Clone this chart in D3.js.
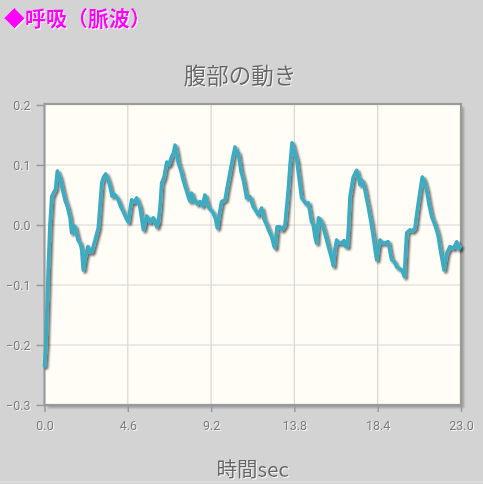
<!DOCTYPE html>
<html><head><meta charset="utf-8">
<script src="https://cdn.jsdelivr.net/npm/d3@7"></script>
<style>
html,body{margin:0;padding:0;background:#d3d3d3;}
svg{display:block;}
text{font-family:Roboto,"Noto Sans CJK JP",sans-serif;}
</style></head><body>
<svg id="c" width="483" height="484"></svg>
<script>
const pageTitle = "◆呼吸（脈波）";
const chartTitle = "腹部の動き";
const xLabel = "時間sec";
const xTicks = [0, 4.6, 9.2, 13.8, 18.4, 23.0];
const yTicks = [-0.3, -0.2, -0.1, 0.0, 0.1, 0.2];
const times = [0,0.08,0.21,0.3,0.4,0.52,0.61,0.71,0.77,0.86,0.99,1.13,1.27,1.41,1.5,1.57,1.68,1.85,1.96,2.05,2.14,2.24,2.4,2.51,2.61,2.79,2.97,3.06,3.16,3.26,3.38,3.51,3.62,3.73,3.81,3.89,4.07,4.22,4.35,4.5,4.63,4.72,4.81,4.94,5.09,5.27,5.46,5.64,5.83,6.01,6.2,6.29,6.38,6.47,6.6,6.75,6.87,7.02,7.12,7.21,7.29,7.39,7.54,7.66,7.81,7.94,8.03,8.13,8.23,8.31,8.45,8.59,8.72,8.86,9.04,9.19,9.32,9.44,9.54,9.66,9.78,9.97,10.1,10.24,10.38,10.52,10.6,10.7,10.85,10.98,11.16,11.35,11.53,11.65,11.8,11.99,12.12,12.27,12.4,12.55,12.67,12.73,12.84,13.0,13.11,13.28,13.46,13.56,13.67,13.78,13.93,14.05,14.2,14.33,14.44,14.57,14.75,14.84,14.94,15.02,15.13,15.21,15.31,15.43,15.58,15.76,15.85,15.95,16.04,16.13,16.26,16.41,16.54,16.59,16.72,16.79,16.87,16.96,17.05,17.24,17.34,17.42,17.52,17.6,17.7,17.78,17.88,18.03,18.16,18.25,18.34,18.44,18.53,18.66,18.8,18.98,19.08,19.17,19.3,19.45,19.57,19.72,19.8,19.87,19.93,20.0,20.18,20.32,20.46,20.54,20.64,20.73,20.86,20.95,21.1,21.23,21.38,21.5,21.65,21.75,21.83,21.94,22.06,22.21,22.39,22.58,22.77,22.87,22.95];
const values = [-0.235,-0.2,-0.07,0.0,0.047,0.055,0.06,0.09,0.085,0.078,0.06,0.042,0.03,0.012,-0.013,0.0,-0.003,-0.025,-0.03,-0.04,-0.075,-0.055,-0.036,-0.045,-0.045,-0.025,-0.005,0.03,0.07,0.08,0.085,0.075,0.064,0.048,0.052,0.05,0.042,0.03,0.022,0.012,0.005,0.025,0.042,0.038,0.045,0.03,-0.008,0.015,0.005,0.012,-0.003,0.005,0.03,0.07,0.08,0.105,0.1,0.114,0.12,0.133,0.122,0.103,0.09,0.075,0.06,0.047,0.04,0.053,0.04,0.042,0.035,0.039,0.032,0.05,0.03,0.025,0.02,0.01,-0.005,0.02,0.039,0.042,0.065,0.087,0.11,0.13,0.122,0.12,0.09,0.075,0.045,0.047,0.03,0.025,0.017,0.028,0.01,0.0,-0.01,-0.02,-0.035,-0.038,-0.003,-0.003,-0.008,0.0,0.058,0.1,0.137,0.125,0.108,0.08,0.045,0.04,0.035,0.037,0.005,0.0,-0.02,-0.03,0.012,0.01,0.003,-0.008,-0.025,-0.045,-0.055,-0.068,-0.04,-0.025,-0.03,-0.03,-0.026,-0.035,-0.036,-0.003,0.047,0.064,0.08,0.091,0.08,0.067,0.075,0.07,0.058,0.045,0.03,0.005,-0.02,-0.04,-0.058,-0.035,-0.025,-0.03,-0.03,-0.028,-0.045,-0.058,-0.06,-0.07,-0.072,-0.075,-0.08,-0.086,-0.05,-0.013,-0.008,-0.01,-0.005,0.015,0.036,0.055,0.08,0.075,0.058,0.035,0.014,0.005,-0.008,-0.02,-0.036,-0.055,-0.075,-0.047,-0.036,-0.039,-0.028,-0.04,-0.036];

const svg = d3.select("#c");
const L = 44.5, R = 461, T = 105, B = 405;
const x = d3.scaleLinear().domain([0, 23]).range([L, R]);
const y = d3.scaleLinear().domain([-0.3, 0.2]).range([B, T]);

const defs = svg.append("defs");
const f1 = defs.append("filter").attr("id","boxsh").attr("x","-10%").attr("y","-10%").attr("width","120%").attr("height","120%");
f1.append("feGaussianBlur").attr("in","SourceAlpha").attr("stdDeviation",1.2).attr("result","b");
f1.append("feOffset").attr("in","b").attr("dx",3).attr("dy",3).attr("result","o");
f1.append("feComponentTransfer").attr("in","o").attr("result","o2").append("feFuncA").attr("type","linear").attr("slope",0.25);
const m1 = f1.append("feMerge"); m1.append("feMergeNode").attr("in","o2"); m1.append("feMergeNode").attr("in","SourceGraphic");

const f2 = defs.append("filter").attr("id","linesh").attr("x","-5%").attr("y","-5%").attr("width","110%").attr("height","110%");
f2.append("feGaussianBlur").attr("in","SourceAlpha").attr("stdDeviation",0.9).attr("result","b");
f2.append("feOffset").attr("in","b").attr("dx",1.5).attr("dy",1.5).attr("result","o");
f2.append("feComponentTransfer").attr("in","o").attr("result","o2").append("feFuncA").attr("type","linear").attr("slope",0.6);
const m2 = f2.append("feMerge"); m2.append("feMergeNode").attr("in","o2"); m2.append("feMergeNode").attr("in","SourceGraphic");

const f3 = defs.append("filter").attr("id","txtsh");
f3.append("feFlood").attr("flood-color","#ffffff").attr("flood-opacity",0.8).attr("result","w");
f3.append("feComposite").attr("in","w").attr("in2","SourceAlpha").attr("operator","in").attr("result","wa");
f3.append("feOffset").attr("in","wa").attr("dx",1).attr("dy",1).attr("result","o");
const m3 = f3.append("feMerge"); m3.append("feMergeNode").attr("in","o"); m3.append("feMergeNode").attr("in","SourceGraphic");

// page title
svg.append("text").attr("x",4).attr("y",26).attr("font-size",21).attr("font-weight","bold")
  .attr("fill","#ff00ff").attr("filter","url(#txtsh)")
  .style("font-family","'Noto Sans CJK JP',sans-serif").text(pageTitle);

// chart title
svg.append("text").attr("x",240).attr("y",84).attr("text-anchor","middle").attr("font-size",22.5)
  .attr("fill","#666").attr("filter","url(#txtsh)")
  .style("font-family","'Noto Sans CJK JP',sans-serif").text(chartTitle);

// plot background with shadow
svg.append("rect").attr("x",L).attr("y",T-1).attr("width",R-L).attr("height",B-T+1)
  .attr("fill","#fffdf5").attr("filter","url(#boxsh)");

// grid
svg.append("g").selectAll("line").data(xTicks.slice(1,-1)).join("line")
  .attr("x1",d=>x(d)).attr("x2",d=>x(d)).attr("y1",T).attr("y2",B)
  .attr("stroke","#d6d6d6").attr("stroke-width",1.2);
svg.append("g").selectAll("line").data(yTicks.slice(1,-1)).join("line")
  .attr("x1",L).attr("x2",R).attr("y1",d=>y(d)).attr("y2",d=>y(d))
  .attr("stroke","#d6d6d6").attr("stroke-width",1.2);

// axes
const yAxis = d3.axisLeft(y).tickValues(yTicks).tickFormat(d3.format(".1f")).tickSize(8).tickPadding(6);
const gy = svg.append("g").attr("transform",`translate(${L},0)`).call(yAxis);
const xAxis = d3.axisBottom(x).tickValues(xTicks).tickFormat(d3.format(".1f")).tickSize(7).tickPadding(9);
const gx = svg.append("g").attr("transform",`translate(0,${B})`).call(xAxis);
[gy,gx].forEach(g=>{
  g.select(".domain").remove();
  g.selectAll(".tick line").attr("stroke","#999").attr("stroke-width",1.5);
  g.selectAll(".tick text").attr("fill","#7a7a7a").attr("font-size",12.5).attr("filter","url(#txtsh)")
    .style("font-family","Roboto,sans-serif");
});

// frame
svg.append("rect").attr("x",L).attr("y",T-1).attr("width",R-L).attr("height",B-T+1)
  .attr("fill","none").attr("stroke","#9a9a9a").attr("stroke-width",2.2);

// line
const pts = times.map((t,i)=>[t, values[i]]);
svg.append("path").datum(pts)
  .attr("d", d3.line().x(d=>x(d[0])).y(d=>y(d[1])))
  .attr("fill","none").attr("stroke","#3aacc2").attr("stroke-width",3.6)
  .attr("stroke-linejoin","round").attr("stroke-linecap","round")
  .attr("filter","url(#linesh)");

// x label
svg.append("text").attr("x",(L+R)/2).attr("y",477).attr("text-anchor","middle").attr("font-size",20.5)
  .attr("fill","#666").attr("filter","url(#txtsh)")
  .style("font-family","'Noto Sans CJK JP',sans-serif").text(xLabel);

svg.append("line").attr("x1",0).attr("x2",483).attr("y1",482).attr("y2",482).attr("stroke","#e4e4e4").attr("stroke-width",1);
</script>
</body></html>
